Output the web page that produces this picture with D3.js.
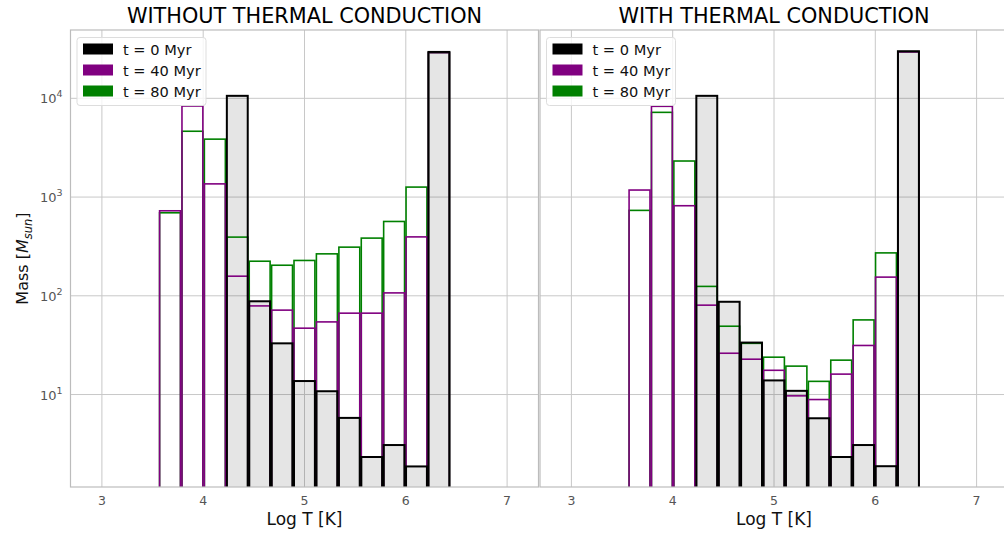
<!DOCTYPE html>
<html>
<head>
<meta charset="utf-8">
<script src="https://cdn.jsdelivr.net/npm/d3@7"></script>
<style>
  html, body { margin: 0; padding: 0; background: #fff; }
  svg { display: block; font-family: "DejaVu Sans", sans-serif; }
</style>
</head>
<body>
<svg id="chart" width="1004" height="538"></svg>
<script>
// Temperature bin edges (log10 T [K]) shared by every histogram
const binEdges = [3.562, 3.783, 4.004, 4.226, 4.447, 4.668, 4.889, 5.110, 5.332, 5.553, 5.774, 5.995, 6.216, 6.438];

// Mass per bin [M_sun], run without thermal conduction
const noCond_t0  = [0, 0, 0, 10600, 88, 33, 13.7, 10.8, 5.8, 2.33, 3.08, 1.87, 29500];
const noCond_t40 = [726, 8360, 1360, 158, 79, 71.6, 47, 54.4, 66.7, 66.7, 107, 395, 29000];
const noCond_t80 = [693, 4640, 3860, 393, 224, 204, 228, 266, 311, 384, 566, 1262, 29000];

// Mass per bin [M_sun], run with thermal conduction
const cond_t0  = [0, 0, 0, 10600, 87, 33.6, 13.9, 10.9, 5.75, 2.33, 3.08, 1.88, 30000];
const cond_t40 = [1178, 8300, 817, 80.4, 26.2, 22.8, 17.6, 9.7, 8.9, 16.1, 31.4, 154.6, 29500];
const cond_t80 = [733, 7210, 2318, 124.5, 49.2, 33, 23.9, 19.4, 13.6, 22.3, 57, 272, 29500];

const panelTitles = ["WITHOUT THERMAL CONDUCTION", "WITH THERMAL CONDUCTION"];
const seriesLabels = ["t = 0 Myr", "t = 40 Myr", "t = 80 Myr"];
const seriesColors = ["#000000", "#800080", "#008000"];
const xTicks = [3, 4, 5, 6, 7];
const yTicks = [10, 100, 1000, 10000];

const svg = d3.select("#chart");

const panels = [
  { left: 70.5, right: 538.5, title: panelTitles[0], series: [noCond_t0, noCond_t40, noCond_t80] },
  { left: 540, right: 1008, title: panelTitles[1], series: [cond_t0, cond_t40, cond_t80] }
];
const plotTop = 30, plotBottom = 487;

const y = d3.scaleLog().domain([Math.pow(10, 0.0636), Math.pow(10, 4.692)]).range([plotBottom, plotTop]);

panels.forEach((p, pi) => {
  const x = d3.scaleLinear().domain([2.69, 7.31]).range([p.left, p.right]);
  const g = svg.append("g");

  const clipId = "clip" + pi;
  svg.append("clipPath").attr("id", clipId)
    .append("rect").attr("x", p.left).attr("y", plotTop)
    .attr("width", p.right - p.left).attr("height", plotBottom - plotTop);

  // grid
  const grid = g.append("g");
  grid.selectAll("line.gx").data(xTicks).join("line")
    .attr("x1", d => x(d)).attr("x2", d => x(d))
    .attr("y1", plotTop).attr("y2", plotBottom)
    .attr("stroke", "#c8c8c8").attr("stroke-width", 1);
  grid.selectAll("line.gy").data(yTicks).join("line")
    .attr("x1", p.left).attr("x2", p.right)
    .attr("y1", d => y(d)).attr("y2", d => y(d))
    .attr("stroke", "#c8c8c8").attr("stroke-width", 1);

  const bars = g.append("g").attr("clip-path", `url(#${clipId})`);
  const bins = (vals) => vals.map((v, i) => ({ x0: binEdges[i], x1: binEdges[i + 1], v })).filter(d => d.v > 0);

  // grey filled initial distribution
  bars.selectAll("rect.fill0").data(bins(p.series[0])).join("rect")
    .attr("x", d => x(d.x0)).attr("width", d => x(d.x1) - x(d.x0))
    .attr("y", d => y(d.v)).attr("height", d => plotBottom + 2 - y(d.v))
    .attr("fill", "#000").attr("fill-opacity", 0.1);

  // outlines: 80 Myr, then 40 Myr, then the initial state on top
  [2, 1, 0].forEach(si => {
    bars.selectAll("rect.s" + si).data(bins(p.series[si])).join("rect")
      .attr("x", d => x(d.x0) + 0.75).attr("width", d => x(d.x1) - x(d.x0) - 1.5)
      .attr("y", d => y(d.v)).attr("height", d => plotBottom + 4 - y(d.v))
      .attr("fill", "none")
      .attr("stroke", seriesColors[si])
      .attr("stroke-width", si === 0 ? 2 : 1.6);
  });

  // frame
  g.append("rect").attr("x", p.left).attr("y", plotTop)
    .attr("width", p.right - p.left).attr("height", plotBottom - plotTop)
    .attr("fill", "none").attr("stroke", "#bcbcbc").attr("stroke-width", 1.2);

  // x tick labels
  g.selectAll("text.xt").data(xTicks).join("text")
    .attr("x", d => x(d)).attr("y", plotBottom + 18)
    .attr("text-anchor", "middle").attr("font-size", 12.5).attr("fill", "#555")
    .text(d => d);

  // y tick labels (first panel only)
  if (pi === 0) {
    yTicks.forEach(t => {
      const txt = g.append("text")
        .attr("x", p.left - 8).attr("y", y(t) + 5)
        .attr("text-anchor", "end").attr("font-size", 13).attr("fill", "#555");
      txt.append("tspan").text("10");
      txt.append("tspan").attr("dy", -6).attr("font-size", 9.5).text(Math.round(Math.log10(t)));
    });
    const yl = g.append("text")
      .attr("transform", `translate(28,${(plotTop + plotBottom) / 2}) rotate(-90)`)
      .attr("text-anchor", "middle").attr("font-size", 16).attr("fill", "#111");
    yl.append("tspan").text("Mass [");
    yl.append("tspan").attr("font-style", "italic").text("M");
    yl.append("tspan").attr("font-style", "italic").attr("font-size", 11.5).attr("dy", 4).text("sun");
    yl.append("tspan").attr("dy", -4).text("]");
  }

  // x label
  g.append("text").attr("x", (p.left + p.right) / 2).attr("y", plotBottom + 38)
    .attr("text-anchor", "middle").attr("font-size", 17).attr("fill", "#111")
    .text("Log T [K]");

  // title
  g.append("text").attr("x", (p.left + p.right) / 2).attr("y", 23.3)
    .attr("text-anchor", "middle").attr("font-size", 20.8).attr("fill", "#000")
    .text(p.title);

  // legend
  const lg = g.append("g").attr("transform", `translate(${p.left + 6.5},${plotTop + 7.5})`);
  lg.append("rect").attr("width", 129).attr("height", 68).attr("rx", 3)
    .attr("fill", "#fff").attr("fill-opacity", 0.8)
    .attr("stroke", "#dddddd").attr("stroke-width", 1);
  seriesLabels.forEach((lab, i) => {
    lg.append("rect").attr("x", 6).attr("y", 6 + i * 21).attr("width", 30).attr("height", 11)
      .attr("fill", seriesColors[i]);
    lg.append("text").attr("x", 46).attr("y", 17 + i * 21)
      .attr("font-size", 14.6).attr("fill", "#111").text(lab);
  });
});
</script>
</body>
</html>
